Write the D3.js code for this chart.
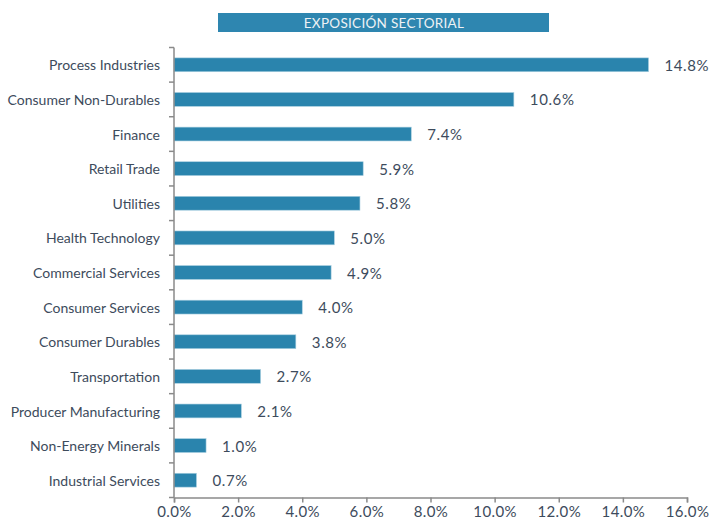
<!DOCTYPE html>
<html>
<head>
<meta charset="utf-8">
<script src="https://cdn.jsdelivr.net/npm/d3@7"></script>
<style>
  html, body { margin: 0; padding: 0; background: #ffffff; }
  svg { display: block; font-family: "Lato", "Noto Sans", sans-serif; }
</style>
</head>
<body>
<svg id="chart" width="710" height="521"></svg>
<script>
// Sector exposure, share of portfolio (%)
const title = "EXPOSICIÓN SECTORIAL";
const categories = [
  "Process Industries", "Consumer Non-Durables", "Finance", "Retail Trade",
  "Utilities", "Health Technology", "Commercial Services", "Consumer Services",
  "Consumer Durables", "Transportation", "Producer Manufacturing",
  "Non-Energy Minerals", "Industrial Services"
];
const values = [14.8, 10.6, 7.4, 5.9, 5.8, 5.0, 4.9, 4.0, 3.8, 2.7, 2.1, 1.0, 0.7];
const xTicks = [0, 2, 4, 6, 8, 10, 12, 14, 16];

const svg = d3.select("#chart");
const plotLeft = 174, plotRight = 687, plotTop = 47.5, plotBottom = 497.5;
const textColor = "#3d4b5c";
const barColor = "#2a84ad";
const axisColor = "#8a8a8a";

// Title banner
svg.append("rect").attr("x", 218).attr("y", 13).attr("width", 331).attr("height", 19)
  .attr("fill", "#2e86b0");
svg.append("text").attr("x", 384).attr("y", 27.5).attr("text-anchor", "middle")
  .attr("fill", "#eef2f5").attr("font-size", 13.5).attr("letter-spacing", 0.3).text(title);

const x = d3.scaleLinear().domain([0, 16]).range([plotLeft, plotRight]);
const y = d3.scaleBand().domain(categories).range([plotTop, plotBottom])
  .paddingInner(0.6).paddingOuter(0.3);

// Bars
svg.append("g").selectAll("rect").data(values).join("rect")
  .attr("x", x(0))
  .attr("y", (d, i) => y(categories[i]))
  .attr("width", d => x(d) - x(0))
  .attr("height", y.bandwidth())
  .attr("fill", barColor)
  .attr("stroke", "#a9cfe0").attr("stroke-width", 0.6);

// Value labels
svg.append("g").selectAll("text").data(values).join("text")
  .attr("x", d => x(d) + 16)
  .attr("y", (d, i) => y(categories[i]) + y.bandwidth() / 2)
  .attr("dy", "0.4em")
  .attr("fill", textColor).attr("font-size", 15).attr("letter-spacing", 0.6)
  .text(d => d.toFixed(1) + "%");

// Vertical axis with ticks on band boundaries
const yAxis = svg.append("g");
yAxis.append("line").attr("x1", plotLeft).attr("x2", plotLeft)
  .attr("y1", plotTop).attr("y2", plotBottom)
  .attr("stroke", axisColor).attr("stroke-width", 1.5);
const step = y.step();
yAxis.selectAll("line.tick").data(d3.range(categories.length + 1)).join("line")
  .attr("class", "tick")
  .attr("x1", plotLeft - 5).attr("x2", plotLeft)
  .attr("y1", i => plotTop + i * step).attr("y2", i => plotTop + i * step)
  .attr("stroke", axisColor).attr("stroke-width", 1.5);
yAxis.selectAll("text").data(categories).join("text")
  .attr("x", plotLeft - 14)
  .attr("y", d => y(d) + y.bandwidth() / 2)
  .attr("dy", "0.4em")
  .attr("text-anchor", "end")
  .attr("fill", textColor).attr("font-size", 14)
  .text(d => d);

// Horizontal axis
const xAxis = svg.append("g").attr("transform", `translate(0,${plotBottom})`)
  .call(d3.axisBottom(x).tickValues(xTicks).tickSize(5).tickPadding(4)
    .tickFormat(d => d.toFixed(1) + "%"));
xAxis.select(".domain").attr("stroke", axisColor).attr("stroke-width", 1.5);
xAxis.selectAll(".tick line").attr("stroke", axisColor).attr("stroke-width", 1.5);
xAxis.selectAll(".tick text").attr("fill", textColor).attr("font-size", 15)
  .attr("letter-spacing", 0.4)
  .attr("font-family", "Lato, 'Noto Sans', sans-serif");
</script>
</body>
</html>
